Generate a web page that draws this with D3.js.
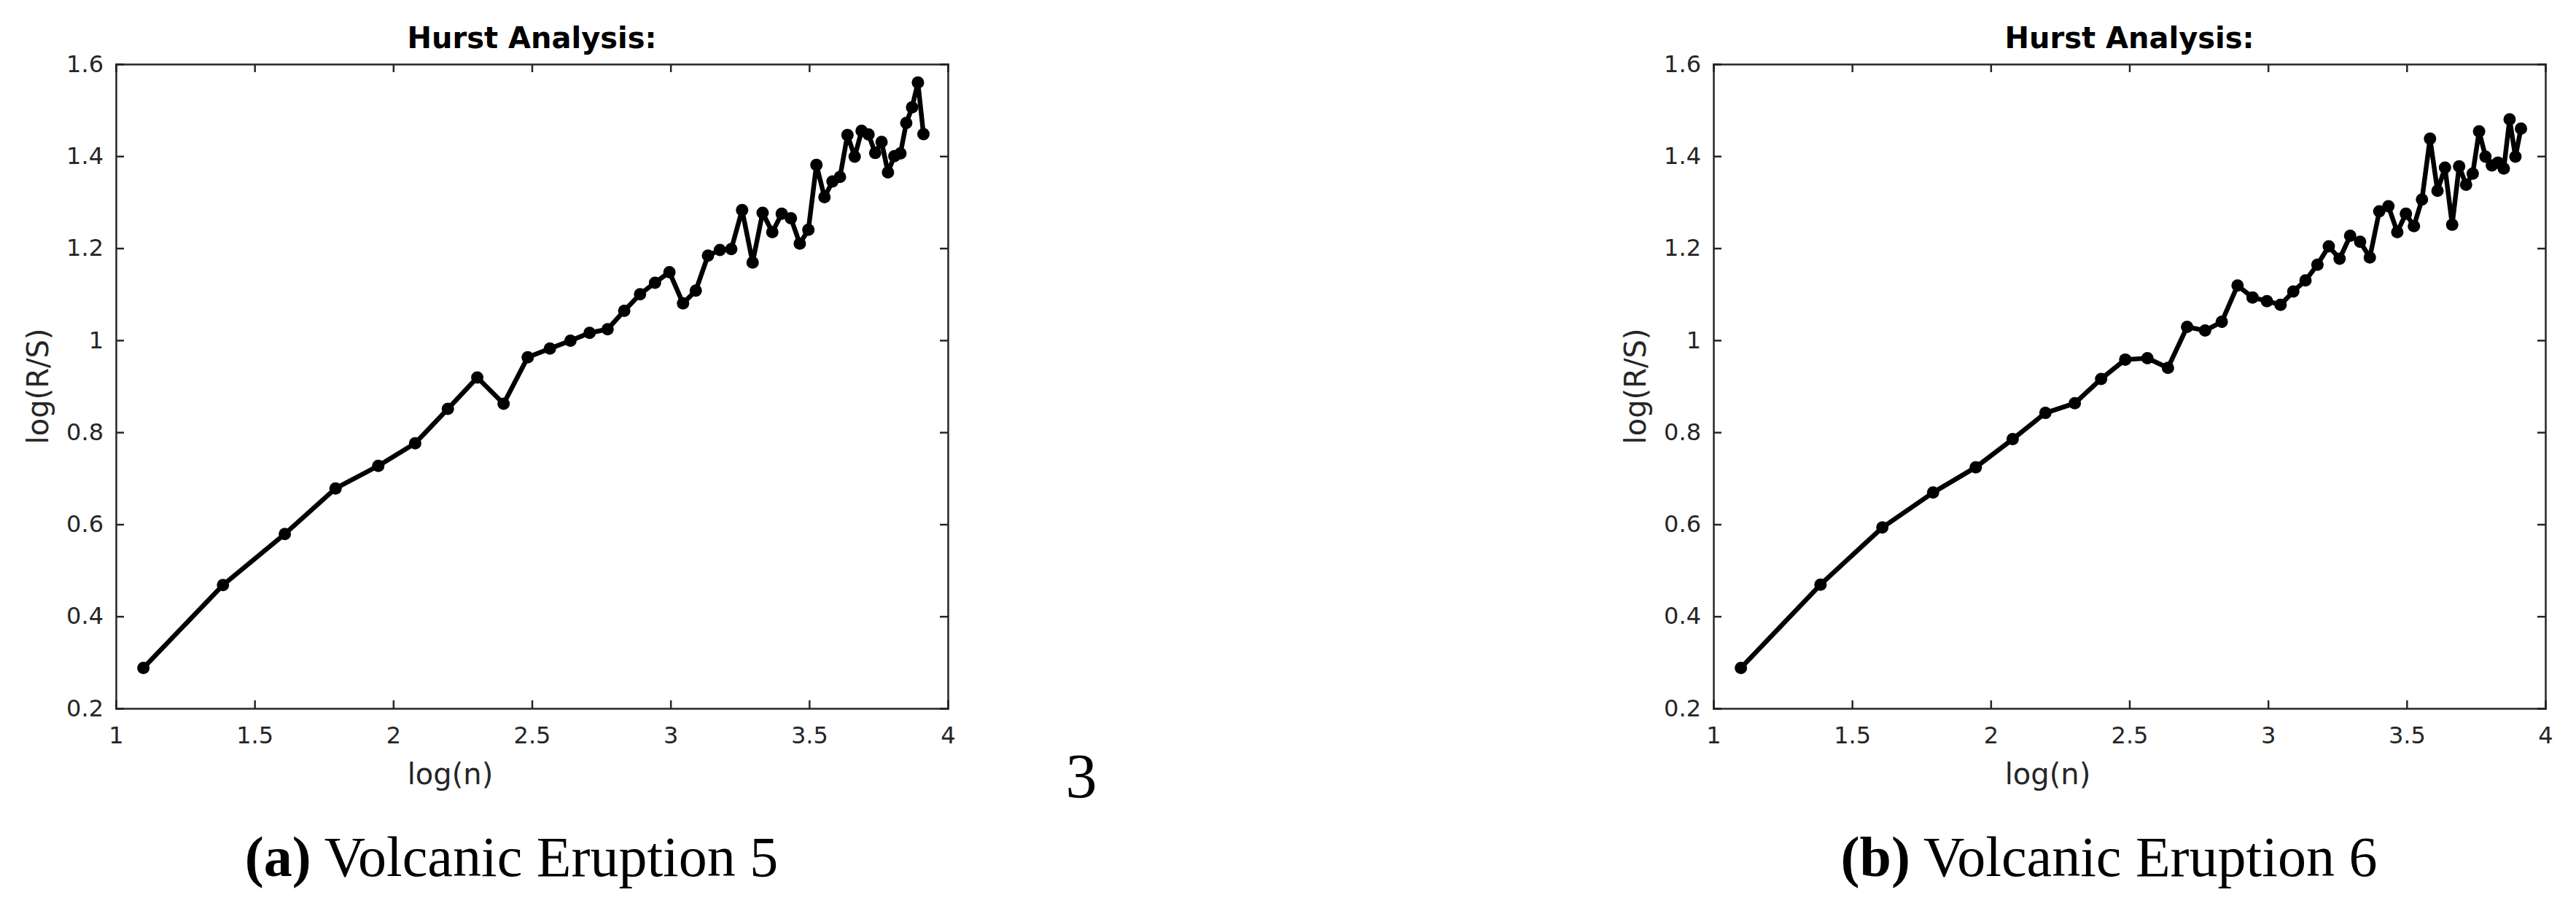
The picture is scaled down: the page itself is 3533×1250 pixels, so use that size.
<!DOCTYPE html>
<html>
<head>
<meta charset="utf-8">
<script src="https://cdn.jsdelivr.net/npm/d3@7"></script>
<style>
  body { margin: 0; background: #fff; }
  svg text { fill: #262626; }
</style>
</head>
<body>
<div id="chart"></div>
<script>
// log(n) for window sizes n = 3..50
const logN = [1.099, 1.386, 1.609, 1.792, 1.946, 2.079, 2.197, 2.303, 2.398, 2.485,
  2.565, 2.639, 2.708, 2.773, 2.833, 2.890, 2.944, 2.996, 3.045, 3.091,
  3.135, 3.178, 3.219, 3.258, 3.296, 3.332, 3.367, 3.401, 3.434, 3.466,
  3.497, 3.526, 3.555, 3.584, 3.611, 3.638, 3.664, 3.689, 3.714, 3.738,
  3.761, 3.784, 3.807, 3.829, 3.850, 3.871, 3.892, 3.912];

const rsEruption5 = [0.288, 0.468, 0.579, 0.678, 0.727, 0.776, 0.851, 0.919, 0.862, 0.963,
  0.982, 0.999, 1.016, 1.024, 1.064, 1.100, 1.125, 1.148, 1.080, 1.108,
  1.184, 1.196, 1.198, 1.283, 1.169, 1.277, 1.235, 1.275, 1.265, 1.210,
  1.240, 1.381, 1.311, 1.345, 1.355, 1.446, 1.399, 1.455, 1.447, 1.407,
  1.431, 1.365, 1.400, 1.406, 1.472, 1.506, 1.560, 1.448];

const rsEruption6 = [0.288, 0.469, 0.593, 0.669, 0.724, 0.785, 0.842, 0.863, 0.916, 0.958,
  0.961, 0.940, 1.029, 1.021, 1.040, 1.119, 1.093, 1.085, 1.077, 1.106,
  1.130, 1.164, 1.204, 1.177, 1.227, 1.214, 1.180, 1.280, 1.291, 1.235,
  1.275, 1.248, 1.306, 1.438, 1.325, 1.375, 1.251, 1.378, 1.338, 1.362,
  1.454, 1.399, 1.380, 1.386, 1.373, 1.480, 1.399, 1.460];

const xTicks = [1, 1.5, 2, 2.5, 3, 3.5, 4];
const yTicks = [0.2, 0.4, 0.6, 0.8, 1, 1.2, 1.4, 1.6];
const panelTags = ["(a)", "(b)"];
const panelNames = ["Volcanic Eruption 5", "Volcanic Eruption 6"];
const plotTitle = "Hurst Analysis:";
const xLabel = "log(n)";
const yLabel = "log(R/S)";

const W = 3533, H = 1250;
const svg = d3.select("#chart").append("svg")
  .attr("width", W)
  .attr("height", H);

const axisFont = "DejaVu Sans, sans-serif";
const serifFont = "Liberation Serif, Times New Roman, serif";
const fmt = d => String(+d.toFixed(1));

function drawPanel(left, values, tag, name) {
  const w = 1141, h = 884, top = 88;
  const g = svg.append("g").attr("transform", `translate(${left},${top})`);

  const x = d3.scaleLinear().domain([1, 4]).range([0, w]);
  const y = d3.scaleLinear().domain([0.2, 1.6]).range([h, 0]);

  // inward ticks on all four sides, labels only bottom/left
  g.append("g").attr("transform", `translate(0,${h})`)
    .call(d3.axisBottom(x).tickValues(xTicks).tickFormat(fmt).tickSize(-11).tickPadding(25));
  g.append("g")
    .call(d3.axisLeft(y).tickValues(yTicks).tickFormat(fmt).tickSize(-11).tickPadding(17));
  g.append("g")
    .call(d3.axisTop(x).tickValues(xTicks).tickFormat("").tickSize(-11));
  g.append("g").attr("transform", `translate(${w},0)`)
    .call(d3.axisRight(y).tickValues(yTicks).tickFormat("").tickSize(-11));

  g.selectAll(".domain, .tick line")
    .attr("stroke", "#262626")
    .attr("stroke-width", 2.5);
  g.selectAll(".tick text")
    .attr("font-family", axisFont)
    .attr("font-size", "32px")
    .attr("fill", "#262626");

  const line = d3.line()
    .x((d, i) => x(logN[i]))
    .y(d => y(d));

  g.append("path")
    .datum(values)
    .attr("d", line)
    .attr("fill", "none")
    .attr("stroke", "#000")
    .attr("stroke-width", 6.5)
    .attr("stroke-linejoin", "round");

  g.selectAll("circle")
    .data(values)
    .enter()
    .append("circle")
    .attr("cx", (d, i) => x(logN[i]))
    .attr("cy", d => y(d))
    .attr("r", 8.5)
    .attr("fill", "#000");

  g.append("text")
    .text(plotTitle)
    .attr("x", w / 2)
    .attr("y", -22)
    .attr("text-anchor", "middle")
    .attr("font-family", axisFont)
    .attr("font-weight", "bold")
    .attr("font-size", "40px")
    .style("fill", "#000");

  g.append("text")
    .text(xLabel)
    .attr("x", w / 2 - 112)
    .attr("y", h + 104)
    .attr("text-anchor", "middle")
    .attr("font-family", axisFont)
    .attr("font-size", "40px");

  g.append("text")
    .text(yLabel)
    .attr("transform", `translate(-93,${h / 2}) rotate(-90)`)
    .attr("text-anchor", "middle")
    .attr("font-family", axisFont)
    .attr("font-size", "40px");

  const cap = svg.append("text")
    .attr("x", left + w / 2 - 28)
    .attr("y", 1202)
    .attr("text-anchor", "middle")
    .attr("font-family", serifFont)
    .attr("font-size", "78px")
    .style("fill", "#000");
  cap.append("tspan").attr("font-weight", "bold").text(tag);
  cap.append("tspan").text(" " + name);
}

drawPanel(159, rsEruption5, panelTags[0], panelNames[0]);
drawPanel(2350, rsEruption6, panelTags[1], panelNames[1]);

// page number
svg.append("text")
  .text("3")
  .attr("x", 1483)
  .attr("y", 1094)
  .attr("text-anchor", "middle")
  .attr("font-family", serifFont)
  .attr("font-size", "86px")
  .style("fill", "#000");
</script>
</body>
</html>
